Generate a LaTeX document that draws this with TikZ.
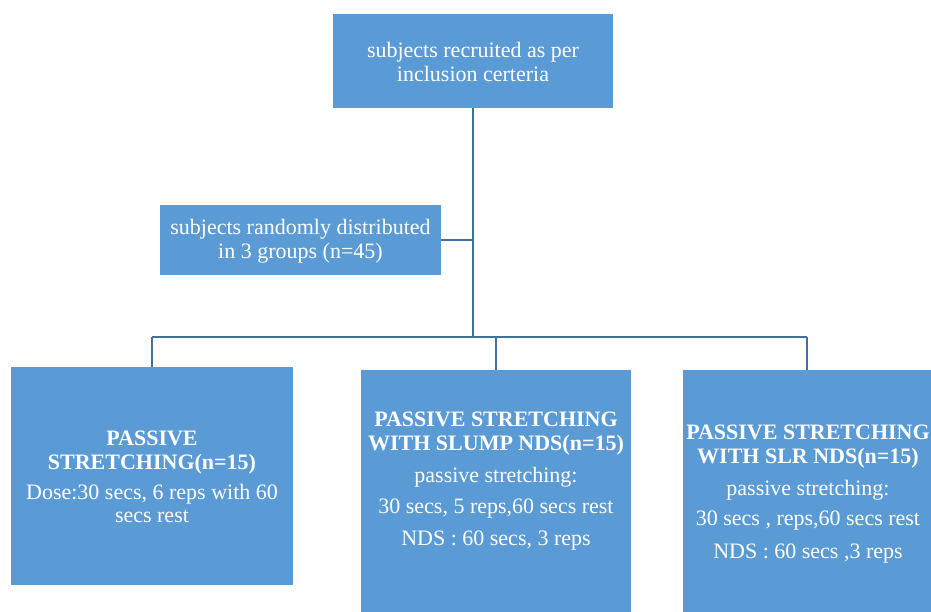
\documentclass[tikz,border=0pt]{standalone}
\usepackage{fontspec}
\setmainfont{Liberation Serif}
\definecolor{boxblue}{RGB}{91,155,213}
\definecolor{linkblue}{RGB}{65,113,156}
\begin{document}
\begin{tikzpicture}[x=1pt,y=-1pt,
  box/.style={fill=boxblue, draw=none, inner sep=0pt, outer sep=0pt},
  txt/.style={text=white, align=center, inner sep=0pt, font=\fontsize{22}{24.5}\selectfont},
  link/.style={draw=linkblue, line width=2pt}]
\useasboundingbox (0,0) rectangle (931,612);
% boxes
\node[box, minimum width=280pt, minimum height=94pt] (top) at (473,61) {};
\node[box, minimum width=281pt, minimum height=70pt] (rand) at (300.5,240) {};
\node[box, minimum width=282pt, minimum height=218pt] (g1) at (152,476) {};
\node[box, minimum width=270pt, minimum height=242pt, anchor=north] (g2) at (496,370) {};
\node[box, minimum width=248pt, minimum height=242pt, anchor=north] (g3) at (807,370) {};
% texts
\node[txt] (toptxt) at (473,62) {subjects recruited as per\\inclusion certeria};
\node[txt] (randtxt) at (300.5,241) {subjects randomly distributed\\in 3 groups (n=45)};
\node[txt] (g1txt) at (152,477) {\textbf{PASSIVE}\\\textbf{STRETCHING(n=15)}\\[5.5pt]Dose:30 secs, 6 reps with 60\\[-1.5pt]secs rest};
\node[txt] (g2txt) at (496,481) {\textbf{PASSIVE STRETCHING}\\\textbf{WITH SLUMP NDS(n=15)}\\[7.5pt]passive stretching:\\[6.5pt]30 secs, 5 reps,60 secs rest\\[7.5pt]NDS : 60 secs, 3 reps};
\node[txt] (g3txt) at (808,494) {\textbf{PASSIVE STRETCHING}\\\textbf{WITH SLR NDS(n=15)}\\[7.5pt]passive stretching:\\[5.5pt]30 secs , reps,60 secs rest\\[8.5pt]NDS : 60 secs ,3 reps};
% connectors
\coordinate (j) at (473,337);
\draw[link] (top.south) -- (top.south |- j);
\draw[link] (rand.east) -- (rand.east -| top.south);
\draw[link] (g1.north |- j) -- (g3.north |- j);
\draw[link] (g1.north |- j) -- (g1.north);
\draw[link] (g2.north |- j) -- (g2.north);
\draw[link] (g3.north |- j) -- (g3.north);
\end{tikzpicture}
\end{document}
